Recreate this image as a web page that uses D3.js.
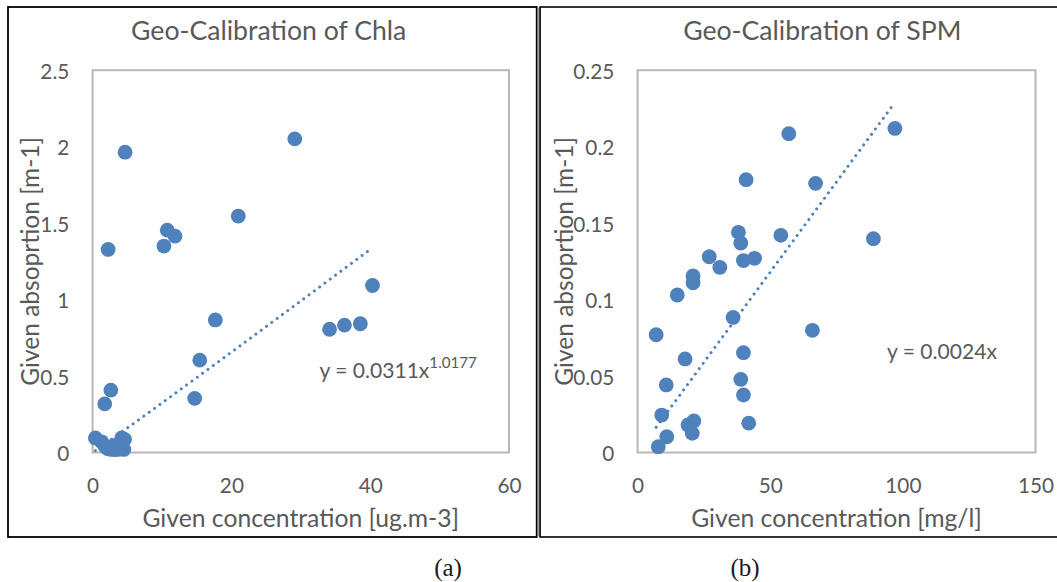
<!DOCTYPE html>
<html><head><meta charset="utf-8">
<script src="https://cdn.jsdelivr.net/npm/d3@7"></script>
<style>html,body{margin:0;padding:0;background:#fff;}svg{display:block;}</style>
</head><body>
<svg id="c" width="1057" height="582"></svg>
<script>
// ---------- data ----------
const chlaTitle = "Geo-Calibration of Chla";
const chlaXLabel = "Given concentration [ug.m-3]";
const chlaYLabel = "Given absoprtion [m-1]";
const chlaX = [4.68, 29.13, 20.99, 10.76, 11.88, 10.28, 2.24, 40.33, 17.68, 34.14, 36.29, 38.58, 15.44, 14.71, 2.63, 1.75,
  0.4, 1.3, 1.8, 2.2, 2.7, 3.2, 3.6, 4.0, 4.5, 4.2, 4.6, 3.0];
const chlaY = [1.964, 2.051, 1.546, 1.454, 1.415, 1.350, 1.328, 1.092, 0.867, 0.806, 0.833, 0.842, 0.604, 0.354, 0.408, 0.318,
  0.095, 0.07, 0.04, 0.025, 0.02, 0.02, 0.02, 0.025, 0.02, 0.095, 0.085, 0.045];
const chlaXTicks = [0, 20, 40, 60];
const chlaYTicks = [0, 0.5, 1, 1.5, 2, 2.5];
const chlaYTickLabels = ["0", "0.5", "1", "1.5", "2", "2.5"];
const chlaFitA = 0.0311, chlaFitB = 1.0177;
const chlaEq = ["y = 0.0311x", "1.0177"];

const spmTitle = "Geo-Calibration of SPM";
const spmXLabel = "Given concentration [mg/l]";
const spmYLabel = "Given absoprtion [m-1]";
const spmX = [57.0, 97.0, 40.9, 67.1, 38.0, 38.9, 54.0, 88.9, 27.0, 31.0, 39.9, 44.1, 20.9, 20.9, 14.95, 36.0, 65.9, 7.0,
  39.9, 17.9, 38.9, 10.8, 39.9, 9.1, 19.0, 21.2, 20.6, 41.9, 11.0, 7.8];
const spmY = [0.2085, 0.2119, 0.1784, 0.176, 0.144, 0.137, 0.142, 0.1398, 0.128, 0.121, 0.1255, 0.127, 0.1155, 0.111, 0.103,
  0.0883, 0.0799, 0.077, 0.0653, 0.0612, 0.0478, 0.0442, 0.0376, 0.0245, 0.018, 0.0206, 0.0125, 0.0192, 0.0103, 0.0038];
const spmXTicks = [0, 50, 100, 150];
const spmYTicks = [0, 0.05, 0.1, 0.15, 0.2, 0.25];
const spmYTickLabels = ["0", "0.05", "0.1", "0.15", "0.2", "0.25"];
const spmFitSlope = 0.00236;
const spmEq = ["y = 0.0024x", ""];

const panelLabels = ["(a)", "(b)"];

// ---------- drawing ----------
const svg = d3.select("#c");
const FONT = "Lato, 'Open Sans', sans-serif";
const TXT = "#595959";
const BLUE = "#4F81BD";

function fit(sel, target) {
  const w = sel.node().getComputedTextLength();
  const fs = parseFloat(sel.attr("font-size"));
  const nf = fs * target / w;
  sel.attr("font-size", nf);
  return nf;
}

// frames
svg.append("rect").attr("x", 8).attr("y", 7).attr("width", 528.7).attr("height", 530)
  .attr("fill", "none").attr("stroke", "#000").attr("stroke-width", 1.8);
svg.append("rect").attr("x", 537.6).attr("y", 7.5).attr("width", 1.8).attr("height", 529)
  .attr("fill", "#9a9a9a");
svg.append("rect").attr("x", 540.1).attr("y", 7).attr("width", 560).attr("height", 530)
  .attr("fill", "none").attr("stroke", "#000").attr("stroke-width", 1.6);

const panels = [
  {title: chlaTitle, xl: chlaXLabel, yl: chlaYLabel, xs: chlaX, ys: chlaY, xt: chlaXTicks, yt: chlaYTicks, ytl: chlaYTickLabels,
   x0: 92.6, x1: 509.0, titleX: 268.7, yTitleX: 29.7, eq: chlaEq, eqX: 319.4, eqY: 369,
   fit: x => chlaFitA * Math.pow(x, chlaFitB), lab: panelLabels[0], labX: 448},
  {title: spmTitle, xl: spmXLabel, yl: spmYLabel, xs: spmX, ys: spmY, xt: spmXTicks, yt: spmYTicks, ytl: spmYTickLabels,
   x0: 637.6, x1: 1035.5, titleX: 822.3, yTitleX: 563, eq: spmEq, eqX: 887, eqY: 350,
   fit: x => spmFitSlope * x, lab: panelLabels[1], labX: 745}
];
const Y0 = 70.2, Y1 = 452.5;

let sizes = {};
panels.forEach((p, i) => {
  const g = svg.append("g");
  const x = d3.scaleLinear().domain(d3.extent(p.xt)).range([p.x0, p.x1]);
  const y = d3.scaleLinear().domain(d3.extent(p.yt)).range([Y1, Y0]);

  // plot area border
  g.append("rect").attr("x", p.x0).attr("y", Y0).attr("width", p.x1 - p.x0).attr("height", Y1 - Y0)
    .attr("fill", "none").attr("stroke", "#b7b7b7").attr("stroke-width", 2);

  // axes (labels only, via d3 axes)
  const ax = g.append("g").attr("transform", `translate(0,${Y1})`)
    .call(d3.axisBottom(x).tickValues(p.xt).tickSize(0).tickPadding(0).tickFormat(d3.format("d")));
  ax.select(".domain").remove();
  const ay = g.append("g").attr("transform", `translate(${p.x0},0)`)
    .call(d3.axisLeft(y).tickValues(p.yt).tickSize(0).tickPadding(0).tickFormat((d, k) => p.ytl[k]));
  ay.select(".domain").remove();
  [ax, ay].forEach(a => a.selectAll("text").attr("fill", TXT).attr("font-family", FONT).attr("font-size", 20));
  ax.selectAll("text").attr("dy", null).attr("y", 32).attr("dominant-baseline", "central");
  ay.selectAll("text").attr("dy", null).attr("x", -23.3).attr("dominant-baseline", "central").attr("text-anchor", "end");
  if (i === 1) {
    const top = ay.selectAll("text").filter((d, k) => k === p.yt.length - 1);
    sizes.tick = fit(top, 41);
  }

  // trendline
  const ext = d3.extent(p.xs);
  const tx = d3.range(0, 101).map(k => ext[0] + (ext[1] - ext[0]) * k / 100);
  g.append("path").attr("d", d3.line().x(d => x(d)).y(d => y(p.fit(d)))(tx))
    .attr("fill", "none").attr("stroke", BLUE).attr("stroke-width", 3)
    .attr("stroke-linecap", "round").attr("stroke-dasharray", "0.01 6.6");

  // points
  g.selectAll("circle.pt").data(p.xs.map((v, k) => [v, p.ys[k]])).join("circle")
    .attr("class", "pt").attr("cx", d => x(d[0])).attr("cy", d => y(d[1])).attr("r", 7.4)
    .attr("fill", BLUE);

  // titles
  p.tEl = g.append("text").attr("x", p.titleX).attr("y", 29.7).attr("text-anchor", "middle")
    .attr("dominant-baseline", "central").attr("fill", TXT).attr("font-family", FONT).attr("font-size", 22).text(p.title);
  p.xEl = g.append("text").attr("x", (p.x0 + p.x1) / 2).attr("y", 517).attr("text-anchor", "middle")
    .attr("dominant-baseline", "central").attr("fill", TXT).attr("font-family", FONT).attr("font-size", 20).text(p.xl);
  p.yEl = g.append("text").attr("transform", `translate(${p.yTitleX},${(Y0 + Y1) / 2}) rotate(-90)`)
    .attr("text-anchor", "middle").attr("dominant-baseline", "central").attr("fill", TXT)
    .attr("font-family", FONT).attr("font-size", 20).text(p.yl);
  p.eqEl = g.append("text").attr("x", p.eqX).attr("y", p.eqY).attr("dominant-baseline", "central")
    .attr("fill", TXT).attr("font-family", FONT).attr("font-size", 18);
  p.eqMain = p.eqEl.append("tspan").text(p.eq[0]);
  if (p.eq[1]) p.eqEl.append("tspan").attr("dy", -7).attr("font-size", "0.72em").text(p.eq[1]);

  svg.append("text").attr("x", p.labX).attr("y", 567).attr("text-anchor", "middle").attr("dominant-baseline", "central")
    .attr("fill", "#1a1a1a").attr("font-family", "'Liberation Serif', serif").attr("font-size", 25).text(p.lab);
});

// harmonise font sizes from measured widths
const tSize = fit(panels[0].tEl, 275.5); panels[1].tEl.attr("font-size", tSize);
const xSize = fit(panels[0].xEl, 317); panels[1].xEl.attr("font-size", xSize);
const ySize = fit(panels[0].yEl, 249); panels[1].yEl.attr("font-size", ySize);
svg.selectAll(".tick text").attr("font-size", sizes.tick);
// equation: fit main part of right equation
const w = panels[1].eqMain.node().getComputedTextLength();
const eqSize = 18 * 110 / w;
panels.forEach(p => p.eqEl.attr("font-size", eqSize));
</script>
</body></html>
